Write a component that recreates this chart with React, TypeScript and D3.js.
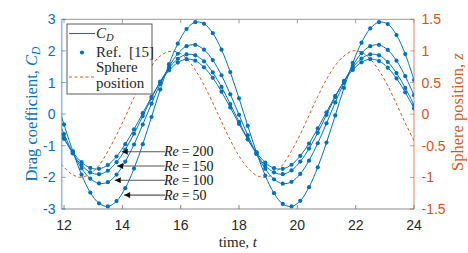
import { useMemo } from 'react'
import * as d3 from 'd3'

// time samples (first one only extends the lines to the axis edge)
const T = [11.9, 12.0, 12.3, 12.6, 12.9, 13.2, 13.5, 13.8, 14.1, 14.4, 14.7, 15.0, 15.3, 15.6, 15.9, 16.2, 16.5, 16.8, 17.1, 17.4, 17.7, 18.0, 18.3, 18.6, 18.9, 19.2, 19.5, 19.8, 20.1, 20.4, 20.7, 21.0, 21.3, 21.6, 21.9, 22.2, 22.5, 22.8, 23.1, 23.4, 23.7, 24.0]

const CD_RE50 = [-0.03, -0.33, -1.17, -1.91, -2.48, -2.82, -2.92, -2.75, -2.34, -1.72, -0.95, -0.09, 0.78, 1.58, 2.23, 2.69, 2.91, 2.86, 2.56, 2.04, 1.33, 0.50, -0.37, -1.21, -1.94, -2.50, -2.84, -2.92, -2.74, -2.31, -1.68, -0.90, -0.04, 0.83, 1.62, 2.26, 2.71, 2.91, 2.85, 2.50, 1.90, 1.08]
const CD_RE100 = [-0.42, -0.63, -1.23, -1.71, -2.04, -2.19, -2.15, -1.91, -1.50, -0.96, -0.33, 0.33, 0.96, 1.50, 1.91, 2.15, 2.19, 2.04, 1.71, 1.23, 0.63, -0.02, -0.67, -1.26, -1.73, -2.06, -2.20, -2.14, -1.89, -1.47, -0.92, -0.29, 0.37, 0.99, 1.53, 1.93, 2.15, 2.19, 2.03, 1.69, 1.20, 0.60]
const CD_RE150 = [-0.58, -0.76, -1.24, -1.61, -1.84, -1.90, -1.79, -1.52, -1.12, -0.62, -0.06, 0.51, 1.03, 1.45, 1.75, 1.89, 1.86, 1.67, 1.32, 0.86, 0.32, -0.24, -0.79, -1.26, -1.63, -1.84, -1.90, -1.78, -1.50, -1.09, -0.59, -0.02, 0.54, 1.05, 1.47, 1.76, 1.89, 1.86, 1.65, 1.30, 0.83, 0.29]
const CD_RE200 = [-0.62, -0.78, -1.20, -1.52, -1.70, -1.73, -1.61, -1.34, -0.95, -0.48, 0.03, 0.55, 1.01, 1.38, 1.63, 1.74, 1.69, 1.48, 1.15, 0.71, 0.21, -0.31, -0.80, -1.22, -1.53, -1.71, -1.73, -1.60, -1.32, -0.93, -0.45, 0.06, 0.58, 1.03, 1.40, 1.64, 1.74, 1.68, 1.47, 1.13, 0.69, 0.18]
const SPHERE_Z = [-0.79, -0.84, -0.96, -1.00, -0.94, -0.81, -0.59, -0.33, -0.04, 0.26, 0.53, 0.76, 0.92, 0.99, 0.98, 0.88, 0.70, 0.46, 0.18, -0.12, -0.41, -0.66, -0.85, -0.97, -1.00, -0.94, -0.80, -0.58, -0.32, -0.02, 0.28, 0.55, 0.77, 0.92, 1.00, 0.98, 0.87, 0.69, 0.45, 0.16, -0.14, -0.42]

const X_TICKS = [12, 14, 16, 18, 20, 22, 24]
const YL_TICKS = [-3, -2, -1, 0, 1, 2, 3]
const YR_TICKS = [-1.5, -1, -0.5, 0, 0.5, 1, 1.5]

// annotations: label, arrow tip (t, CD), tail t
const ANN_RE = ['200', '150', '100', '50']
const ANN_TIP_T = [13.98, 13.82, 13.74, 14.06]
const ANN_TIP_CD = [-1.19, -1.64, -2.09, -2.56]
const ANN_TAIL_T = 15.46

const BLUE = '#0072BD'
const ORANGE = '#D95319'
const SERIF = '"Liberation Serif", "Times New Roman", serif'
const SANS = '"Liberation Sans", Arial, sans-serif'

export default function App() {
  const W = 468, H = 253
  const L = 61.7, R = 414, TOP = 19.3, BOT = 209

  const x = d3.scaleLinear().domain([11.92, 24]).range([L, R])
  const yL = d3.scaleLinear().domain([-3, 3]).range([BOT, TOP])
  const yR = d3.scaleLinear().domain([-1.5, 1.5]).range([BOT, TOP])

  const series = [CD_RE50, CD_RE100, CD_RE150, CD_RE200]

  const lineL = useMemo(() => d3.line<number>()
    .x((_, i) => x(T[i]))
    .y(d => yL(d))
    .curve(d3.curveCatmullRom.alpha(0.5)), [])
  const lineR = d3.line<number>()
    .x((_, i) => x(T[i]))
    .y(d => yR(d))
    .curve(d3.curveCatmullRom.alpha(0.5))

  const tick = 4

  return (
    <div style={{ position: 'fixed', left: 0, top: 0 }}>
      <svg width={W} height={H} viewBox={`0 0 ${W} ${H}`} style={{ display: 'block', background: '#fff' }}>
        <defs>
          <clipPath id="plotClip">
            <rect x={L} y={TOP} width={R - L} height={BOT - TOP} />
          </clipPath>
          <marker id="ah" viewBox="0 0 10 10" refX="10" refY="5" markerWidth="7" markerHeight="6" orient="auto" markerUnits="userSpaceOnUse">
            <path d="M0,0 L10,5 L0,10 z" fill="#111" />
          </marker>
        </defs>

        <g clipPath="url(#plotClip)">
          {/* sphere position, right axis */}
          <path d={lineR(SPHERE_Z) || ''} fill="none" stroke={ORANGE} strokeWidth={1} strokeDasharray="3,2.5" />
          {series.map((s, k) => (
            <path key={k} d={lineL(s) || ''} fill="none" stroke={BLUE} strokeWidth={1} />
          ))}
          {series.map((s, k) => (
            <g key={'m' + k}>
              {s.map((v, i) => T[i] >= 12 ? (
                <circle key={i} cx={x(T[i])} cy={yL(v)} r={2.1} fill={BLUE} />
              ) : null)}
            </g>
          ))}
        </g>

        {/* box */}
        <line x1={L} x2={R} y1={TOP} y2={TOP} stroke="#999" strokeWidth={1} />
        <line x1={L} x2={R} y1={BOT} y2={BOT} stroke="#888" strokeWidth={1} />
        <line x1={L} x2={L} y1={TOP} y2={BOT} stroke={BLUE} strokeOpacity={0.45} strokeWidth={1.6} />
        <line x1={R} x2={R} y1={TOP} y2={BOT} stroke={ORANGE} strokeOpacity={0.45} strokeWidth={1.6} />

        {/* x ticks */}
        {X_TICKS.map(t => (
          <g key={t}>
            <line x1={x(t)} x2={x(t)} y1={BOT} y2={BOT - tick} stroke="#888" />
            <line x1={x(t)} x2={x(t)} y1={TOP} y2={TOP + tick} stroke="#999" />
            <text x={x(t)} y={229.5} textAnchor="middle" fontFamily={SANS} fontSize={14} fill="#262626">{t}</text>
          </g>
        ))}

        {/* left ticks */}
        {YL_TICKS.map(v => (
          <g key={v}>
            <line x1={L} x2={L + tick} y1={yL(v)} y2={yL(v)} stroke={BLUE} strokeOpacity={0.6} />
            <text x={55.5} y={yL(v) + 5} textAnchor="end" fontFamily={SANS} fontSize={14} fill={BLUE}>{String(v)}</text>
          </g>
        ))}

        {/* right ticks */}
        {YR_TICKS.map(v => (
          <g key={v}>
            <line x1={R} x2={R - tick} y1={yR(v)} y2={yR(v)} stroke={ORANGE} strokeOpacity={0.6} />
            <text x={421.5} y={yR(v) + 5} textAnchor="start" fontFamily={SANS} fontSize={14} fill={ORANGE}>{String(v)}</text>
          </g>
        ))}

        {/* axis labels */}
        <text transform={`translate(36.5,${(TOP + BOT) / 2}) rotate(-90)`} textAnchor="middle" fontFamily={SERIF} fontSize={16.5} fill={BLUE}>
          Drag coefficient, <tspan fontStyle="italic">C</tspan><tspan fontStyle="italic" fontSize={11.5} dy={3}>D</tspan>
        </text>
        <text transform={`translate(463,${(TOP + BOT) / 2 - 2}) rotate(-90)`} textAnchor="middle" fontFamily={SERIF} fontSize={16.5} fill={ORANGE}>
          Sphere position, <tspan fontStyle="italic">z</tspan>
        </text>
        <text x={(L + R) / 2} y={247} textAnchor="middle" fontFamily={SERIF} fontSize={15} fill="#262626">
          time, <tspan fontStyle="italic">t</tspan>
        </text>

        {/* annotations */}
        {ANN_RE.map((lab, i) => {
          const ty = yL(ANN_TIP_CD[i])
          return (
            <g key={lab}>
              <line x1={x(ANN_TAIL_T)} y1={ty} x2={x(ANN_TIP_T[i])} y2={ty} stroke="#555" strokeWidth={1.2} markerEnd="url(#ah)" />
              <text x={x(ANN_TAIL_T) - 1} y={ty + 4.5} fontFamily={SERIF} fontSize={14} fill="#111">
                <tspan fontStyle="italic">Re</tspan><tspan dx={3}>=</tspan><tspan dx={3}>{lab}</tspan>
              </text>
            </g>
          )
        })}

        {/* legend */}
        <g>
          <rect x={67} y={24} width={85} height={70} fill="#fff" stroke="#333" strokeWidth={0.8} />
          <line x1={69} x2={95} y1={33.5} y2={33.5} stroke={BLUE} strokeWidth={1.1} />
          <text x={96} y={37.5} fontFamily={SERIF} fontSize={15} fill="#262626">
            <tspan fontStyle="italic">C</tspan><tspan fontStyle="italic" fontSize={10.5} dy={3}>D</tspan>
          </text>
          <circle cx={82} cy={52.5} r={2.1} fill={BLUE} />
          <text x={96} y={57} fontFamily={SERIF} fontSize={15} fill="#262626" xmlSpace="preserve">Ref.  [15]</text>
          <line x1={69} x2={95} y1={77} y2={77} stroke={ORANGE} strokeWidth={1} strokeDasharray="3,2.5" />
          <text x={96} y={72} fontFamily={SERIF} fontSize={15} fill="#262626">Sphere</text>
          <text x={96} y={87.5} fontFamily={SERIF} fontSize={15} fill="#262626">position</text>
        </g>
      </svg>
    </div>
  )
}
